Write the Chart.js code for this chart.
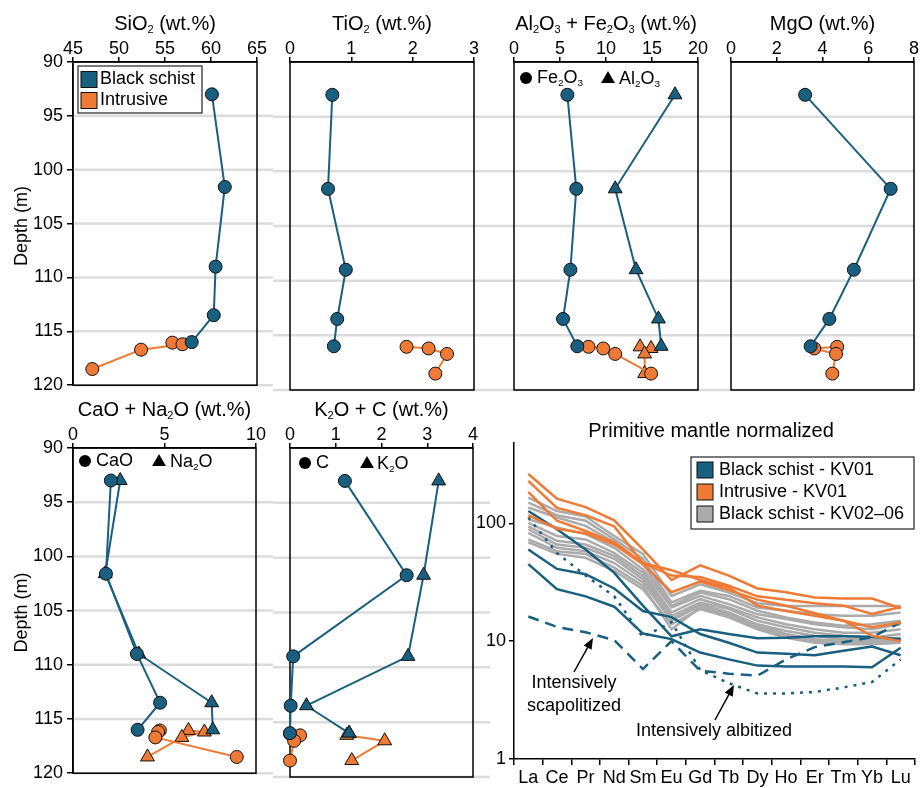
<!DOCTYPE html>
<html>
<head>
<meta charset="utf-8">
<script src="https://cdn.jsdelivr.net/npm/chart.js@4.4.1/dist/chart.umd.min.js"></script>
<style>
  body { margin: 0; background: #fff; }
  #fig { position: relative; width: 920px; height: 788px; overflow: hidden; background: #fff; }
  #fig canvas { position: absolute; }
</style>
</head>
<body>
<div id="fig"></div>
<script>
// sample depths (m)
const depthSchist = [93, 101.6, 109, 113.5, 116.0]
const depthIntrusive = [116.05, 116.2, 116.7, 118.5]

// major elements, wt.%
const sio2Schist = [60.1, 61.5, 60.5, 60.3, 57.9]
const sio2Intrusive = [55.8, 56.9, 52.4, 47.1]
const tio2Schist = [0.69, 0.62, 0.91, 0.77, 0.715]
const tio2Intrusive = [1.90, 2.26, 2.56, 2.37]
const fe2o3Schist = [5.8, 6.77, 6.13, 5.33, 6.88]
const fe2o3Intrusive = [8.1, 9.7, 11.0, 14.9]
const al2o3Schist = [17.5, 11.0, 13.26, 15.7, 16.0]
const al2o3Intrusive = [13.7, 14.9, 14.2, 14.2]
const mgoSchist = [3.24, 6.98, 5.37, 4.30, 3.48]
const mgoIntrusive = [4.64, 3.64, 4.59, 4.43]
const caoSchist = [2.07, 1.8, 3.49, 4.76, 3.53]
const caoIntrusive = [4.75, 4.65, 4.5, 8.95]
const na2oSchist = [2.58, 1.76, 3.6, 7.58, 7.64]
const na2oIntrusive = [6.31, 7.18, 5.95, 4.07]
const cSchist = [1.2, 2.55, 0.07, 0.015, 0.0]
const cIntrusive = [0.0, 0.22, 0.09, 0.0]
const k2oSchist = [3.25, 2.92, 2.58, 0.36, 1.29]
const k2oIntrusive = [1.30, 1.24, 2.07, 1.35]

// REE, primitive mantle normalized
const reeLabels = ['La', 'Ce', 'Pr', 'Nd', 'Sm', 'Eu', 'Gd', 'Tb', 'Dy', 'Ho', 'Er', 'Tm', 'Yb', 'Lu']
const reeSchistKV01 = [
  [127, 89, 60, 38, 20, 11, 12.6, 11.5, 10.6, 10.7, 11, 11, 10.9, 10.4],
  [60, 41, 37, 28, 18, 16, 11.5, 9.7, 8.0, 7.8, 7.6, 8.3, 9.0, 7.6],
  [45, 27.6, 24, 19.6, 11.6, 10.4, 8, 7, 6.2, 6.1, 6.1, 6.1, 6, 8.8],
  [16.2, 13.2, 11.9, 10.2, 5.8, 10, 5.6, 5.3, 5.1, 7.0, 8.9, 9.8, 10.8, 14.4],
  [112, 56, 36, 24, 10.8, 14.5, 5.7, 4.4, 3.6, 3.6, 3.7, 4.05, 4.5, 7]
]
const reeIntrusiveKV01 = [
  [262, 162, 137, 106, 60, 33, 44, 36, 28, 26, 23.5, 23, 23, 19],
  [229, 135, 117, 94, 46, 36, 35, 29.5, 24, 22.5, 21, 20, 17, 19.5],
  [185, 105, 86, 69, 46, 40, 33, 28.5, 20, 18, 16.4, 14.9, 13.1, 14.4],
  [117, 90, 82, 66, 45, 26, 32, 27, 22.5, 20, 17.3, 14.9, 11.1, 10]
]
const reeSchistKV0206 = [
  [165, 127, 114, 78, 55, 24.2, 30.4, 25.8, 21, 19.9, 19.9, 19.9, 19.9, 19.9],
  [150, 117, 105, 73, 50, 21.3, 26.7, 24.2, 19.3, 18.1, 16.9, 16.4, 16.4, 17.5],
  [136, 112, 95, 69, 45, 19.9, 25.8, 22.7, 18.1, 15.9, 14.4, 13.5, 13.9, 14.9],
  [108, 92, 81, 62, 40.7, 19.3, 24.2, 20.6, 16.9, 15.4, 13.9, 13.1, 12.6, 13.9],
  [101, 78, 73, 56, 38.2, 17.5, 22.7, 19.3, 15.9, 13.9, 12.6, 11.8, 11.8, 12.6],
  [94, 71, 66, 53, 35.8, 16.4, 21.3, 18.7, 14.9, 13.1, 11.8, 11.1, 10.7, 11.5],
  [89, 66, 62, 50, 33.5, 15.4, 20.6, 17.5, 13.9, 12.2, 11.1, 10.4, 10.4, 10.7],
  [83, 62, 58, 46, 31.4, 14.9, 19.9, 16.9, 13.5, 11.5, 10.4, 10.1, 10.1, 10.4],
  [73, 58, 55, 42, 29.4, 12.6, 19.3, 16.4, 13.1, 11.1, 10.1, 9.7, 9.7, 10.1],
  [69, 55, 51, 39.5, 27.6, 13.9, 18.7, 15.9, 12.6, 10.7, 9.7, 9.4, 9.4, 9.7]
]

const FONT = '"Liberation Sans", Arial, Helvetica, sans-serif'
const BLUE = '#195f80'
const ORANGE = '#ee7a36'
const GREY = '#ababab'
const GRID = '#dcdcdc'

Chart.defaults.font.family = FONT
Chart.defaults.font.size = 18
Chart.defaults.color = '#000'
Chart.defaults.animation = false
Chart.defaults.events = []
Chart.defaults.plugins.legend.display = false
Chart.defaults.plugins.tooltip.enabled = false

const SUB = '₀₁₂₃₄₅₆₇₈₉'

// draws text with small subscript digits (written as unicode subscripts)
function drawRich(ctx, text, x, y, size, align) {
  const runs = []
  for (const ch of text) {
    const sub = SUB.includes(ch)
    const c = sub ? String(SUB.indexOf(ch)) : ch
    const last = runs[runs.length - 1]
    if (last && last.sub === sub) last.t += c
    else runs.push({ t: c, sub })
  }
  let w = 0
  runs.forEach((r) => {
    ctx.font = `${r.sub ? size * 0.55 : size}px ${FONT}`
    r.w = ctx.measureText(r.t).width
    w += r.w
  })
  let cx = align === 'center' ? x - w / 2 : x
  ctx.textAlign = 'left'
  ctx.textBaseline = 'middle'
  ctx.fillStyle = '#000'
  runs.forEach((r) => {
    ctx.font = `${r.sub ? size * 0.55 : size}px ${FONT}`
    ctx.fillText(r.t, cx, r.sub ? y + size * 0.32 : y)
    cx += r.w
  })
}

function drawMarker(ctx, shape, x, y, r) {
  ctx.beginPath()
  if (shape === 'triangle') {
    ctx.moveTo(x, y - r)
    ctx.lineTo(x + r * 0.866, y + r * 0.5)
    ctx.lineTo(x - r * 0.866, y + r * 0.5)
    ctx.closePath()
  } else {
    ctx.arc(x, y, r, 0, Math.PI * 2)
  }
  ctx.fill()
}

function makeCanvas(left, top, width, height) {
  const c = document.createElement('canvas')
  c.width = width
  c.height = height
  c.style.left = left + 'px'
  c.style.top = top + 'px'
  c.style.width = width + 'px'
  c.style.height = height + 'px'
  document.getElementById('fig').appendChild(c)
  return c
}

// gridlines that run through the gaps between panels, the frame, titles and keys.
// All coordinates in the options are page coordinates.
const decor = {
  id: 'decor',
  beforeDatasetsDraw(chart, args, o) {
    const { ctx, chartArea } = chart
    ctx.save()
    ctx.translate(-o.origin[0], -o.origin[1])
    if (o.depthGrid) {
      const y = chart.scales.y
      ctx.strokeStyle = GRID
      ctx.lineWidth = 2.5
      for (let d = 95; d <= 120; d += 5) {
        const py = y.getPixelForValue(d) + o.origin[1]
        ctx.beginPath()
        ctx.moveTo(o.depthGrid[0], py)
        ctx.lineTo(o.depthGrid[1], py)
        ctx.stroke()
      }
    }
    ctx.restore()
    if (o.frame) {
      ctx.save()
      ctx.strokeStyle = '#000'
      ctx.lineWidth = 1.5
      ctx.strokeRect(chartArea.left, chartArea.top, chartArea.right - chartArea.left, chartArea.bottom - chartArea.top)
      ctx.restore()
    }
  },
  afterDraw(chart, args, o) {
    const { ctx } = chart
    ctx.save()
    ctx.translate(-o.origin[0], -o.origin[1])
    if (o.title) drawRich(ctx, o.title[0], o.title[1], o.title[2], 20, 'center')
    if (o.yTitle) {
      ctx.save()
      ctx.translate(o.yTitle[1], o.yTitle[2])
      ctx.rotate(-Math.PI / 2)
      drawRich(ctx, o.yTitle[0], 0, 0, 18, 'center')
      ctx.restore()
    }
    if (o.boxKey) {
      const k = o.boxKey
      ctx.fillStyle = '#fff'
      ctx.fillRect(k.box[0], k.box[1], k.box[2], k.box[3])
      ctx.strokeStyle = '#222'
      ctx.lineWidth = 1.2
      ctx.strokeRect(k.box[0], k.box[1], k.box[2], k.box[3])
      k.items.forEach((it, i) => {
        const cy = k.rows[i]
        ctx.fillStyle = it.color
        ctx.fillRect(k.swatchX, cy - 8, 16, 16)
        ctx.strokeStyle = '#111'
        ctx.lineWidth = 1
        ctx.strokeRect(k.swatchX, cy - 8, 16, 16)
        drawRich(ctx, it.label, k.textX, cy, 18, 'left')
      })
    }
    if (o.markerKey) {
      o.markerKey.forEach((it) => {
        ctx.fillStyle = '#000'
        drawMarker(ctx, it.shape, it.x, it.y, it.shape === 'triangle' ? 8 : 6)
        drawRich(ctx, it.label, it.textX, it.y, 18, 'left')
      })
    }
    if (o.notes) {
      o.notes.forEach((n) => {
        n.lines.forEach((t, i) => drawRich(ctx, t, n.x, n.y + i * 23, 18, 'center'))
        const [x0, y0, x1, y1] = n.arrow
        const a = Math.atan2(y1 - y0, x1 - x0)
        ctx.strokeStyle = '#000'
        ctx.fillStyle = '#000'
        ctx.lineWidth = 1.5
        ctx.beginPath()
        ctx.moveTo(x0, y0)
        ctx.lineTo(x1 - 8 * Math.cos(a), y1 - 8 * Math.sin(a))
        ctx.stroke()
        ctx.beginPath()
        ctx.moveTo(x1, y1)
        ctx.lineTo(x1 - 11 * Math.cos(a) + 4.5 * Math.sin(a), y1 - 11 * Math.sin(a) - 4.5 * Math.cos(a))
        ctx.lineTo(x1 - 11 * Math.cos(a) - 4.5 * Math.sin(a), y1 - 11 * Math.sin(a) + 4.5 * Math.cos(a))
        ctx.closePath()
        ctx.fill()
      })
    }
    ctx.restore()
  }
}

function depthSeries(values, depth, color, shape) {
  return {
    data: values.map((v, i) => ({ x: v, y: depth[i] })),
    showLine: true,
    borderColor: color,
    borderWidth: 2,
    pointStyle: shape,
    pointRadius: shape === 'triangle' ? 8 : 6.5,
    pointBackgroundColor: color,
    pointBorderColor: '#111',
    pointBorderWidth: 1,
    clip: false
  }
}

// one depth profile panel; area = [left, top, right, bottom] of the plot box on the page
function depthPanel(p) {
  const [cl, ct, cw, ch] = p.canvas
  const [ax0, ay0, ax1, ay1] = p.area
  new Chart(makeCanvas(cl, ct, cw, ch), {
    type: 'scatter',
    data: { datasets: p.datasets },
    options: {
      responsive: false,
      layout: {
        autoPadding: false,
        padding: { left: 0, right: cl + cw - ax1, top: 0, bottom: ct + ch - ay1 }
      },
      scales: {
        x: {
          type: 'linear',
          position: 'top',
          min: p.x[0],
          max: p.x[1],
          ticks: { stepSize: p.x[2], padding: -3 },
          grid: { drawOnChartArea: false, tickLength: 5, color: '#000', lineWidth: 1.5 },
          border: { color: '#000', width: 1.5 },
          afterFit: (s) => { s.height = ay0 - ct }
        },
        y: {
          type: 'linear',
          reverse: true,
          min: 90,
          max: 120,
          display: !!p.first,
          ticks: { stepSize: 5, padding: 4 },
          grid: { drawOnChartArea: false, tickLength: 6, color: '#000', lineWidth: 1.5 },
          border: { color: '#000', width: 1.5 },
          afterFit: (s) => { s.width = ax0 - cl }
        }
      },
      plugins: {
        decor: {
          origin: [cl, ct],
          depthGrid: p.grid,
          frame: true,
          title: [p.title, (ax0 + ax1) / 2, ay0 - 38],
          yTitle: p.first ? ['Depth (m)', 22, (ay0 + ay1) / 2] : null,
          boxKey: p.boxKey,
          markerKey: p.markerKey
        }
      }
    },
    plugins: [decor]
  })
}

const BOTTOM_TOP = 390

depthPanel({
  canvas: [0, 0, 273, 400], area: [73, 62, 257, 390], first: true, grid: [73, 273],
  x: [45, 65, 5], title: 'SiO₂ (wt.%)',
  datasets: [depthSeries(sio2Schist, depthSchist, BLUE, 'circle'), depthSeries(sio2Intrusive, depthIntrusive, ORANGE, 'circle')],
  boxKey: {
    box: [78, 66, 124, 47], swatchX: 81, textX: 100, rows: [79.5, 100.5],
    items: [{ label: 'Black schist', color: BLUE }, { label: 'Intrusive', color: ORANGE }]
  }
})
depthPanel({
  canvas: [273, 0, 221, 400], area: [290, 62, 474, 390], grid: [273, 494],
  x: [0, 3, 1], title: 'TiO₂ (wt.%)',
  datasets: [depthSeries(tio2Schist, depthSchist, BLUE, 'circle'), depthSeries(tio2Intrusive, depthIntrusive, ORANGE, 'circle')]
})
depthPanel({
  canvas: [494, 0, 228, 400], area: [514, 62, 698, 390], grid: [494, 722],
  x: [0, 20, 5], title: 'Al₂O₃ + Fe₂O₃ (wt.%)',
  datasets: [
    depthSeries(fe2o3Schist, depthSchist, BLUE, 'circle'), depthSeries(al2o3Schist, depthSchist, BLUE, 'triangle'),
    depthSeries(fe2o3Intrusive, depthIntrusive, ORANGE, 'circle'), depthSeries(al2o3Intrusive, depthIntrusive, ORANGE, 'triangle')
  ],
  markerKey: [
    { shape: 'circle', x: 526, y: 78, textX: 537, label: 'Fe₂O₃' },
    { shape: 'triangle', x: 608, y: 79, textX: 619, label: 'Al₂O₃' }
  ]
})
depthPanel({
  canvas: [722, 0, 198, 400], area: [731, 62, 914, 390], grid: [722, 914],
  x: [0, 8, 2], title: 'MgO (wt.%)',
  datasets: [depthSeries(mgoSchist, depthSchist, BLUE, 'circle'), depthSeries(mgoIntrusive, depthIntrusive, ORANGE, 'circle')]
})
depthPanel({
  canvas: [0, BOTTOM_TOP, 273, 398], area: [73, 448, 256, 777], first: true, grid: [73, 273],
  x: [0, 10, 5], title: 'CaO + Na₂O (wt.%)',
  datasets: [
    depthSeries(caoSchist, depthSchist, BLUE, 'circle'), depthSeries(na2oSchist, depthSchist, BLUE, 'triangle'),
    depthSeries(caoIntrusive, depthIntrusive, ORANGE, 'circle'), depthSeries(na2oIntrusive, depthIntrusive, ORANGE, 'triangle')
  ],
  markerKey: [
    { shape: 'circle', x: 85, y: 461, textX: 96, label: 'CaO' },
    { shape: 'triangle', x: 159, y: 462, textX: 170, label: 'Na₂O' }
  ]
})
depthPanel({
  canvas: [273, BOTTOM_TOP, 221, 398], area: [290, 448, 473, 777], grid: [273, 490],
  x: [0, 4, 1], title: 'K₂O + C (wt.%)',
  datasets: [
    depthSeries(cSchist, depthSchist, BLUE, 'circle'), depthSeries(k2oSchist, depthSchist, BLUE, 'triangle'),
    depthSeries(cIntrusive, depthIntrusive, ORANGE, 'circle'), depthSeries(k2oIntrusive, depthIntrusive, ORANGE, 'triangle')
  ],
  markerKey: [
    { shape: 'circle', x: 305, y: 463, textX: 316, label: 'C' },
    { shape: 'triangle', x: 367, y: 464, textX: 377, label: 'K₂O' }
  ]
})

// spider diagram
const schistDash = [[], [], [], [11, 7], [3, 6]]
const reeLine = (values, color, dash, order) => ({
  data: values,
  borderColor: color,
  borderWidth: 2.5,
  borderDash: dash,
  pointRadius: 0,
  order
})

new Chart(makeCanvas(466, 418, 454, 370), {
  type: 'line',
  data: {
    labels: reeLabels,
    datasets: [
      ...reeIntrusiveKV01.map((v) => reeLine(v, ORANGE, [], 1)),
      ...reeSchistKV01.map((v, i) => reeLine(v, BLUE, schistDash[i], 2)),
      ...reeSchistKV0206.map((v) => reeLine(v, GREY, [], 3))
    ]
  },
  options: {
    responsive: false,
    layout: { autoPadding: false, padding: { left: 0, right: 5, top: 25, bottom: 0 } },
    scales: {
      x: {
        type: 'category',
        offset: true,
        grid: { offset: true, drawOnChartArea: false, tickLength: 6, color: '#000', lineWidth: 1.5 },
        border: { color: '#000', width: 1.5 },
        ticks: { autoSkip: false, maxRotation: 0, padding: 2 },
        afterFit: (s) => { s.height = 29 }
      },
      y: {
        type: 'logarithmic',
        min: 1,
        max: 480,
        afterBuildTicks: (s) => { s.ticks = [1, 10, 100].map((v) => ({ value: v })) },
        ticks: { padding: 3, callback: (v) => String(v) },
        grid: { drawOnChartArea: false, tickLength: 5, color: '#000', lineWidth: 1.5 },
        border: { color: '#000', width: 1.5 },
        afterFit: (s) => { s.width = 48 }
      }
    },
    plugins: {
      decor: {
        origin: [466, 418],
        title: ['Primitive mantle normalized', 711, 431],
        boxKey: {
          box: [691, 457, 223, 72], swatchX: 697, textX: 719, rows: [470, 492, 514],
          items: [
            { label: 'Black schist - KV01', color: BLUE },
            { label: 'Intrusive - KV01', color: ORANGE },
            { label: 'Black schist - KV02–06', color: GREY }
          ]
        },
        notes: [
          { lines: ['Intensively', 'scapolitized'], x: 574, y: 683, arrow: [574, 672, 593, 638] },
          { lines: ['Intensively albitized'], x: 714, y: 731, arrow: [715, 720, 734, 685] }
        ]
      }
    }
  },
  plugins: [decor]
})
</script>
</body>
</html>
